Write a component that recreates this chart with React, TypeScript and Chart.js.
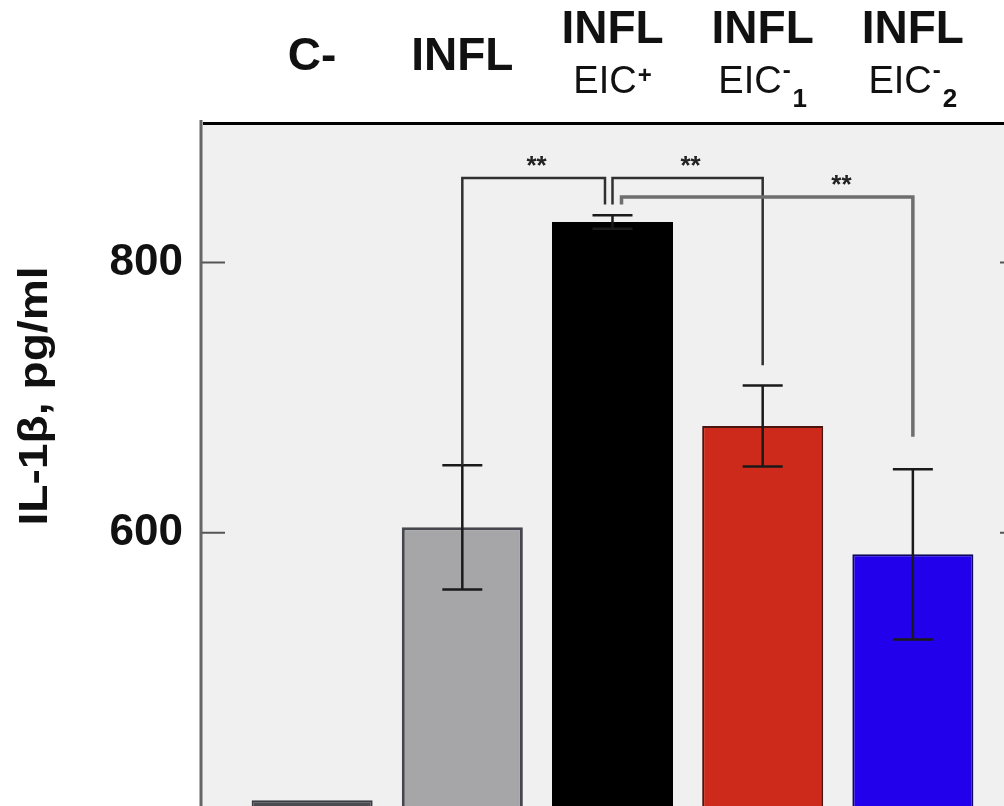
import React, { useEffect, useRef } from "react";
import { Chart, registerables } from "chart.js";

Chart.register(...registerables);

const FONT = '"Liberation Sans", Arial, Helvetica, sans-serif';

// Category labels (two-line labels split into parts)
const labelTop = ["C-", "INFL", "INFL", "INFL", "INFL"];
const labelBottom = ["", "", "EIC", "EIC", "EIC"];
const labelSup = ["", "", "+", "-", "-"];
const labelSub = ["", "", "", "1", "2"];

// Series values (IL-1β, pg/ml) and error (±)
const means = [402, 604, 830, 679, 584];
const errors = [0, 46, 5, 30, 63];

// Axis
const yTicks = [600, 800];
const yMin = 380;
const yMax = 904;
const yTitle = "IL-1β, pg/ml";

// Colours
const fillColors = ["#4b4b52", "#a6a6a8", "#000000", "#cd2a1b", "#2200ec"];
const edgeColors = ["#3c3c44", "#46464e", "#000000", "#4a1410", "#0c0a5a"];
const edgeWidths = [2, 3, 2, 2, 2];

// Significance brackets
const bracketFrom = [1, 2, 2];
const bracketTo = [2, 3, 4];
const bracketLevel = [862.5, 862.5, 848.5];
const bracketFromEnd = [650, 843, 843];
const bracketToEnd = [843, 724, 671];
const bracketFromShift = [0, 0, 0.06];
const bracketToShift = [-0.05, 0, 0];
const bracketText = ["**", "**", "**"];
const bracketTextAt = [0.52, 0.52, 0.755];
const bracketColor = ["#303030", "#303030", "#6e6e6e"];

const overlay = {
  id: "overlay",
  beforeDraw(chart: any) {
    const { ctx, chartArea: a } = chart;
    ctx.save();
    ctx.fillStyle = "#f0f0f0";
    ctx.fillRect(a.left, a.top, a.right - a.left, a.bottom - a.top);
    ctx.restore();
  },
  afterDraw(chart: any) {
    const { ctx, chartArea: a } = chart;
    const xs = chart.scales.x;
    const ys = chart.scales.y;
    ctx.save();

    // error bars
    ctx.strokeStyle = "#1a1a1a";
    ctx.lineWidth = 2.5;
    means.forEach((m, i) => {
      const e = errors[i];
      if (!e) return;
      const cx = xs.getPixelForValue(i);
      const yt = ys.getPixelForValue(m + e);
      const yb = ys.getPixelForValue(m - e);
      ctx.beginPath();
      ctx.moveTo(cx, yt);
      ctx.lineTo(cx, yb);
      ctx.moveTo(cx - 20, yt);
      ctx.lineTo(cx + 20, yt);
      ctx.moveTo(cx - 20, yb);
      ctx.lineTo(cx + 20, yb);
      ctx.stroke();
    });

    // brackets
    bracketFrom.forEach((f, k) => {
      const x1 = xs.getPixelForValue(f + bracketFromShift[k]);
      const x2 = xs.getPixelForValue(bracketTo[k] + bracketToShift[k]);
      const yl = ys.getPixelForValue(bracketLevel[k]);
      const y1 = ys.getPixelForValue(bracketFromEnd[k]);
      const y2 = ys.getPixelForValue(bracketToEnd[k]);
      ctx.strokeStyle = bracketColor[k];
      ctx.lineWidth = k === 2 ? 3.5 : 2.5;
      ctx.beginPath();
      ctx.moveTo(x1, y1);
      ctx.lineTo(x1, yl);
      ctx.lineTo(x2, yl);
      ctx.lineTo(x2, y2);
      ctx.stroke();
      ctx.fillStyle = "#222";
      ctx.font = "bold 26px " + FONT;
      ctx.textAlign = "center";
      ctx.textBaseline = "alphabetic";
      const tx = x1 + (x2 - x1) * bracketTextAt[k];
      ctx.fillText(bracketText[k], tx, yl - 19 + 15);
    });

    // frame
    ctx.lineCap = "butt";
    ctx.strokeStyle = "#666";
    ctx.lineWidth = 3;
    ctx.beginPath();
    ctx.moveTo(a.left, a.top - 2);
    ctx.lineTo(a.left, a.bottom);
    ctx.moveTo(a.right, a.top - 2);
    ctx.lineTo(a.right, a.bottom);
    ctx.stroke();
    ctx.strokeStyle = "#000";
    ctx.beginPath();
    ctx.moveTo(a.left + 2, a.top + 1.5);
    ctx.lineTo(a.right, a.top + 1.5);
    ctx.stroke();

    // inward tick marks
    ctx.strokeStyle = "#555";
    ctx.lineWidth = 2;
    yTicks.forEach((v) => {
      const y = ys.getPixelForValue(v);
      ctx.beginPath();
      ctx.moveTo(a.left + 1, y);
      ctx.lineTo(a.left + 24, y);
      ctx.moveTo(a.right - 24, y);
      ctx.lineTo(a.right - 1, y);
      ctx.stroke();
    });

    // category labels on top
    ctx.fillStyle = "#111";
    ctx.textBaseline = "alphabetic";
    labelTop.forEach((t, i) => {
      const cx = xs.getPixelForValue(i);
      ctx.textAlign = "center";
      ctx.font = "bold 46px " + FONT;
      if (!labelBottom[i]) {
        ctx.fillText(t, cx, 70);
        return;
      }
      ctx.fillText(t, cx, 43);
      const mainFont = "38px " + FONT;
      const supFont = "bold 24px " + FONT;
      const subFont = "bold 26px " + FONT;
      ctx.font = mainFont;
      const w0 = ctx.measureText(labelBottom[i]).width;
      ctx.font = supFont;
      const w1 = labelSup[i] ? ctx.measureText(labelSup[i]).width : 0;
      ctx.font = subFont;
      const w2 = labelSub[i] ? ctx.measureText(labelSub[i]).width : 0;
      const total = w0 + (w1 ? w1 + 1 : 0) + (w2 ? w2 + 2 : 0);
      let x = cx - total / 2;
      ctx.textAlign = "left";
      ctx.font = mainFont;
      ctx.fillText(labelBottom[i], x, 93);
      x += w0 + 1;
      if (w1) {
        ctx.font = supFont;
        ctx.fillText(labelSup[i], x, labelSup[i] === "+" ? 83 : 78);
        x += w1 + 2;
      }
      if (w2) {
        ctx.font = subFont;
        ctx.fillText(labelSub[i], x, 107);
      }
    });

    // y title
    ctx.translate(47, 396);
    ctx.rotate(-Math.PI / 2);
    ctx.scale(1.1, 0.95);
    ctx.font = "bold 42px " + FONT;
    ctx.textAlign = "center";
    ctx.textBaseline = "alphabetic";
    ctx.fillStyle = "#111";
    ctx.fillText(yTitle, 0, 0);
    ctx.restore();
  },
};

export default function App() {
  const ref = useRef<HTMLCanvasElement | null>(null);
  useEffect(() => {
    if (!ref.current) return;
    const chart = new Chart(ref.current, {
      type: "bar",
      data: {
        datasets: [
          {
            data: means.map((v, i) => ({ x: i, y: v })),
            backgroundColor: fillColors,
            borderColor: edgeColors,
            borderWidth: edgeWidths,
            barPercentage: 0.806,
            categoryPercentage: 1,
          } as any,
        ],
      },
      options: {
        responsive: false,
        animation: false,
        devicePixelRatio: 1,
        layout: { padding: { top: 122, right: 16, bottom: 0, left: 0 } },
        plugins: { legend: { display: false }, tooltip: { enabled: false } },
        scales: {
          x: {
            type: "linear",
            display: false,
            offset: false,
            min: -0.74,
            max: 4.74,
            afterBuildTicks: (s: any) => {
              s.ticks = means.map((_, i) => ({ value: i }));
            },
          },
          y: {
            type: "linear",
            position: "left",
            min: yMin,
            max: yMax,
            grid: { display: false, drawTicks: false },
            border: { display: false },
            ticks: {
              font: { family: FONT, size: 44, weight: "bold" },
              color: "#111",
              padding: 18,
            },
            afterBuildTicks: (s: any) => {
              s.ticks = yTicks.map((v) => ({ value: v }));
            },
            afterFit: (s: any) => {
              s.width = 201;
              s.paddingTop = 0;
              s.paddingBottom = 0;
            },
          },
        },
      } as any,
      plugins: [overlay],
    });
    return () => chart.destroy();
  }, []);
  return (
    <div
      style={{
        position: "fixed",
        left: 0,
        top: 0,
        width: 1004,
        height: 806,
        overflow: "hidden",
        background: "#fff",
      }}
    >
      <canvas ref={ref} width={1040} height={830} style={{ display: "block" }} />
    </div>
  );
}
